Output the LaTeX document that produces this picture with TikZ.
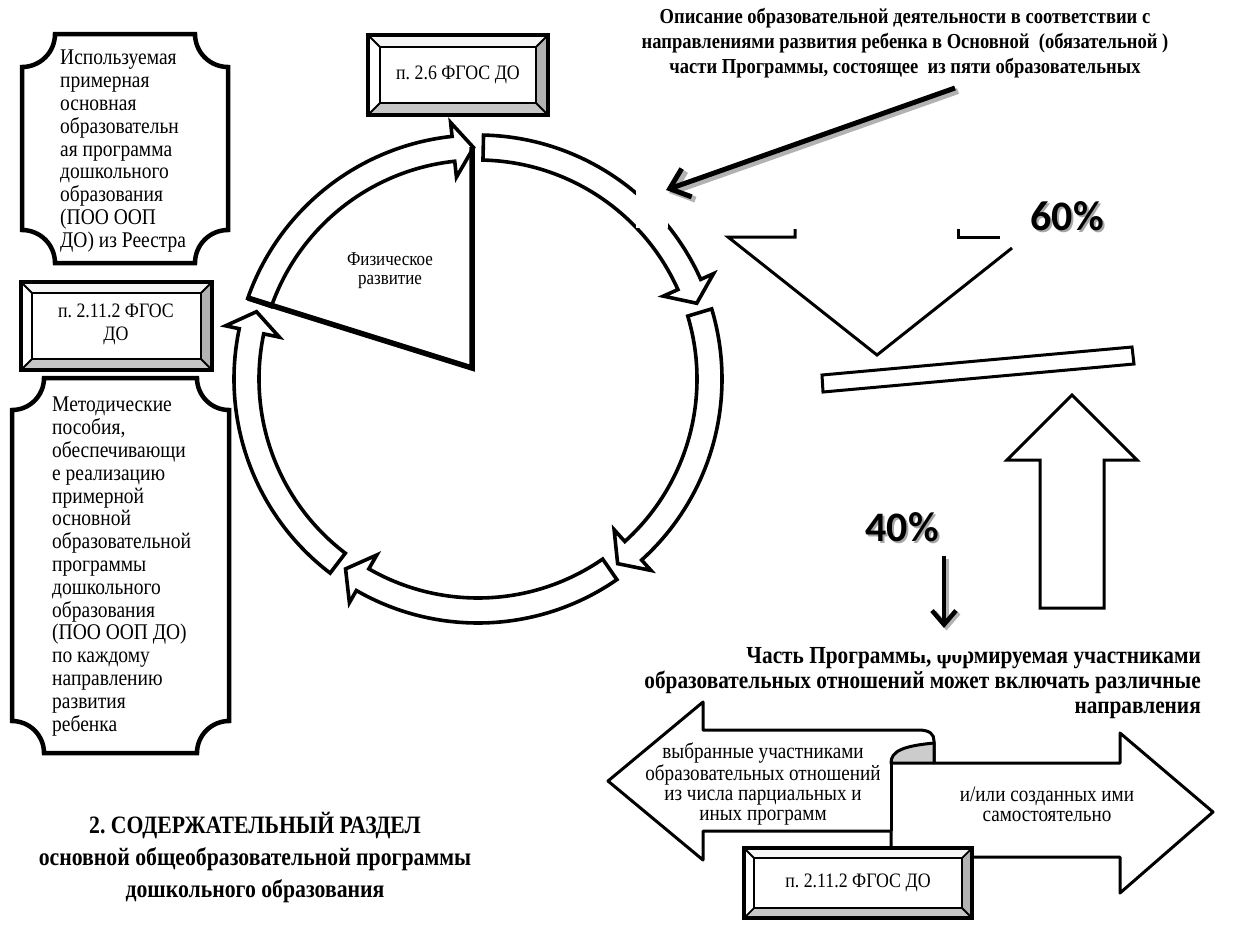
\documentclass[tikz,border=0pt]{standalone}
\usepackage{fontspec}
\setmainfont{Liberation Serif}[FakeStretch=0.87]
\newfontfamily\pctfont{Carlito}
\usetikzlibrary{arrows.meta,calc}

% concave-cornered frame: x1,y1,x2,y2,r
\newcommand{\scoopframe}[5]{%
  \draw[scoop] ({#1+#5},#2) -- ({#3-#5},#2)
    .. controls ({#3-#5},{#2+0.552*#5}) and ({#3-0.552*#5},{#2+#5}) .. (#3,{#2+#5})
    -- (#3,{#4-#5})
    .. controls ({#3-0.552*#5},{#4-#5}) and ({#3-#5},{#4-0.552*#5}) .. ({#3-#5},#4)
    -- ({#1+#5},#4)
    .. controls ({#1+#5},{#4-0.552*#5}) and ({#1+0.552*#5},{#4-#5}) .. (#1,{#4-#5})
    -- (#1,{#2+#5})
    .. controls ({#1+0.552*#5},{#2+#5}) and ({#1+#5},{#2+0.552*#5}) .. ({#1+#5},#2)
    -- cycle;}

% bevelled plate: name, x1,y1,x2,y2,inset
\newcommand{\bevelplate}[6]{%
  \fill[white] (#2,#3) rectangle (#4,#5);
  \fill[gray!8]  (#2,#3) -- (#4,#3) -- ({#4-#6},{#3+#6}) -- ({#2+#6},{#3+#6}) -- cycle;
  \fill[gray!60] (#4,#3) -- (#4,#5) -- ({#4-#6},{#5-#6}) -- ({#4-#6},{#3+#6}) -- cycle;
  \fill[gray!45] (#2,#5) -- (#4,#5) -- ({#4-#6},{#5-#6}) -- ({#2+#6},{#5-#6}) -- cycle;
  \draw[line width=1.8pt]
    (#2,#3) -- ({#2+#6},{#3+#6}) (#4,#3) -- ({#4-#6},{#3+#6})
    (#2,#5) -- ({#2+#6},{#5-#6}) (#4,#5) -- ({#4-#6},{#5-#6});
  \draw[line width=1.8pt] ({#2+#6},{#3+#6}) rectangle ({#4-#6},{#5-#6});
  \draw[line width=4.2pt] (#2,#3) rectangle (#4,#5);
  \coordinate (#1) at ({(#2+#4)/2},{(#3+#5)/2});}

\begin{document}
\frenchspacing
\begin{tikzpicture}[x=1pt,y=-1pt,
  scoop/.style={draw=black,line width=4.5pt,fill=white},
  ring/.style={draw=black,line width=3.6pt,fill=white,line join=miter},
  plain/.style={inner sep=0pt,align=left,anchor=north west,font=\fontsize{22.4}{22.8}\selectfont},
  small/.style={inner sep=0pt,align=center,font=\fontsize{20.5}{23}\selectfont},
  ribtext/.style={inner sep=0pt,align=center,anchor=north,font=\fontsize{22}{20}\selectfont},
  boldtext/.style={inner sep=0pt,font=\bfseries},
  pct/.style={inner sep=0pt,font=\pctfont\bfseries\fontsize{42}{42}\selectfont},
  pctshadow/.style={pct,text=black!35},
  linearrow/.style={line width=5pt,-{Straight Barb[length=18pt,width=30pt,line width=5pt]}},
  shadowarrow/.style={draw=black!30,line width=6pt,-{Straight Barb[length=18pt,width=30pt,line width=6pt]}},
  block/.style={draw=black,line width=3pt,fill=white,line join=miter}]

\useasboundingbox (0,0) rectangle (1239,938);
\fill[white] (0,0) rectangle (1239,938);

% ---------- left column ----------
\scoopframe{22}{34}{228}{263}{33}
\node[plain] (reestr) at (60,50)
  {Используемая\\примерная\\основная\\образовательн\\ая программа\\дошкольного\\образования\\(ПОО ООП\\ДО) из Реестра};

\bevelplate{pA}{21}{282}{212}{370}{11}
\node[small] (pAtext) at (116,324) {п. 2.11.2 ФГОС\\ДО};

\scoopframe{12}{378}{229}{753}{32}
\node[plain] (posob) at (52,397)
  {Методические\\пособия,\\обеспечивающи\\е реализацию\\примерной\\основной\\образовательной\\программы\\дошкольного\\образования\\(ПОО ООП ДО)\\по каждому\\направлению\\развития\\ребенка};

% ---------- cycle of five arrows ----------
\begin{scope}[shift={(478,379)},yscale=-1]
  \foreach \t in {160.7,88.7,16.7,-55.3,-127.3}{
    \pgfmathsetmacro\tp{\t-69.6}
    \pgfmathsetmacro\bs{\tp+5}
    \draw[ring] (\t:244) arc[start angle=\t,end angle=\bs,radius=244]
      -- (\bs:258) -- (\tp:231.5) -- (\bs:203) -- (\bs:219)
      arc[start angle=\bs,end angle=\t,radius=219] -- cycle;
  }
\end{scope}

% sector of the first area
\coordinate (secTop) at (472,147);
\coordinate (secC) at (472,368);
\coordinate (secL) at (248,298);
\draw[line width=5.5pt,line join=miter] (secTop) -- (secC) -- (secL);
\node[inner sep=0pt,align=center,anchor=north,font=\fontsize{19.5}{18.3}\selectfont] (phys) at (390,253) {Физическое\\развитие};

\bevelplate{pB}{368}{35}{548}{115}{12}
\node[small] (pBtext) at (pB) {п. 2.6 ФГОС ДО};

% ---------- description and its pointer ----------
\node[boldtext,align=center,anchor=north,font=\bfseries\fontsize{21.3}{25.2}\selectfont] (descr) at (905,8)
  {Описание образовательной деятельности в соответствии с\\
   направлениями развития ребенка в Основной\ \ (обязательной )\\
   части Программы, состоящее\ \ из пяти образовательных};

\fill[white] (636,180) rectangle (668,228);
\coordinate (ptrS) at (955,88);
\coordinate (ptrE) at (666,190);
\draw[shadowarrow] ($(ptrS)+(3,3)$) -- ($(ptrE)+(3,3)$);
\draw[linearrow] (ptrS) -- (ptrE);

% ---------- balance ----------
\draw[line width=3pt,line join=miter] (795,229) -- (795,237) -- (728,237) -- (877,355) -- (1012,248);
\draw[line width=3pt,line join=miter] (958,229) -- (958,237) -- (1000,237);
\draw[block] (822,375) -- (1132,347) -- (1134,364) -- (823,392) -- cycle;
\draw[block] (1040,608) -- (1040,460) -- (1007,460) -- (1072,395) -- (1137,460) -- (1104,460) -- (1104,608) -- cycle;

\node[pctshadow] at (1069,218) {60\%};
\node[pct] (p60) at (1067,216) {60\%};
\node[pctshadow] at (904,529) {40\%};
\node[pct] (p40) at (902,527) {40\%};

% ---------- variable part ----------
\node[boldtext,align=right,anchor=north east,font=\bfseries\fontsize{24.5}{25}\selectfont] (varpart) at (1201,646)
  {Часть Программы, формируемая участниками\\
   образовательных отношений может включать различные\\
   направления};
\fill[white] (919,628) rectangle (968,655);
\coordinate (dS) at (944,556);
\coordinate (dE) at (944,628);
\draw[draw=black!30,line width=5pt,-{Straight Barb[length=14pt,width=24pt,line width=5pt]}] ($(dS)+(2.5,2.5)$) -- ($(dE)+(2.5,2.5)$);
\draw[line width=4.5pt,-{Straight Barb[length=14pt,width=24pt,line width=4.5pt]}] (dS) -- (dE);

% ribbon double arrow
\draw[block,line join=round] (608,781) -- (703,702) -- (703,730) -- (918,730)
  .. controls (930,730) and (934,734) .. (934,741) -- (934,763) -- (1120,763) -- (1120,733)
  -- (1213,812) -- (1120,893) -- (1120,857) -- (891,857) -- (891,831) -- (703,831)
  -- (703,860) -- cycle;
\filldraw[fill=gray!40,line width=3pt,line join=round] (891,763)
  .. controls (891,751) and (903,746) .. (934,743) -- (934,763) -- cycle;
\draw[line width=3pt] (891,831) -- (891,761);
\node[ribtext] (chosen) at (763,743)
  {выбранные участниками\\образовательных отношений\\из числа парциальных и\\иных программ};
\node[ribtext] (own) at (1047,787) {и/или созданных ими\\самостоятельно};

\bevelplate{pC}{744}{848}{972}{918}{10}
\node[small] (pCtext) at (pC) {п. 2.11.2 ФГОС ДО};

% ---------- section title ----------
\node[boldtext,align=center,anchor=north,font=\bfseries\fontsize{25}{32}\selectfont] (title) at (255,812)
  {2. СОДЕРЖАТЕЛЬНЫЙ РАЗДЕЛ\\
   основной общеобразовательной программы\\
   дошкольного образования};
\end{tikzpicture}
\end{document}
